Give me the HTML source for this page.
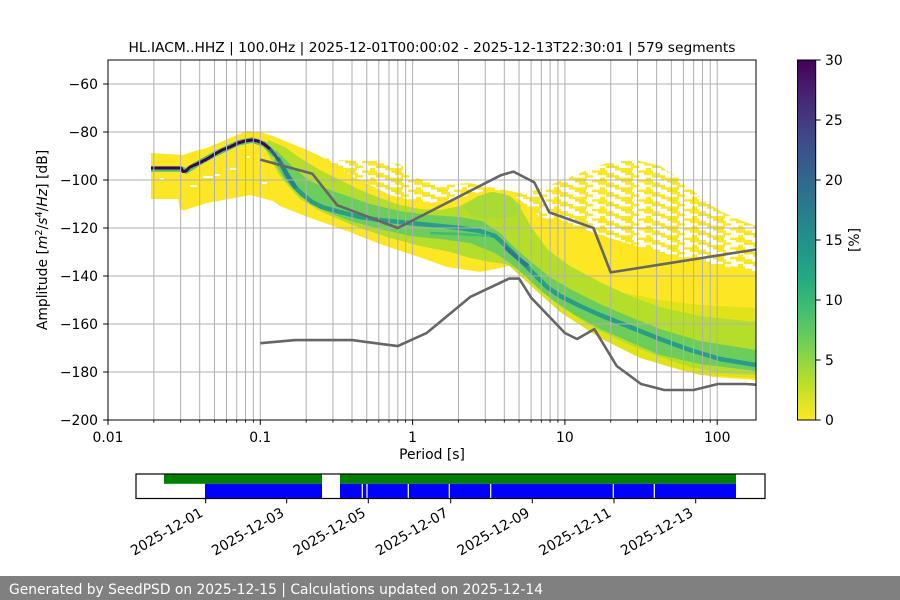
<!DOCTYPE html>
<html>
<head>
<meta charset="utf-8">
<style>
html,body{margin:0;padding:0;background:#fff;}
svg{display:block;}
text{font-family:"DejaVu Sans","Liberation Sans",sans-serif;}
</style>
</head>
<body>
<svg width="900" height="600" viewBox="0 0 900 600" xmlns="http://www.w3.org/2000/svg">
<defs>
  <linearGradient id="vir" x1="0" y1="0" x2="0" y2="1">
    <stop offset="0" stop-color="#440154"/>
    <stop offset="0.1" stop-color="#482475"/>
    <stop offset="0.2" stop-color="#414487"/>
    <stop offset="0.3" stop-color="#355f8d"/>
    <stop offset="0.4" stop-color="#2a788e"/>
    <stop offset="0.5" stop-color="#21918c"/>
    <stop offset="0.6" stop-color="#22a884"/>
    <stop offset="0.7" stop-color="#44bf70"/>
    <stop offset="0.8" stop-color="#7ad151"/>
    <stop offset="0.9" stop-color="#bddf26"/>
    <stop offset="1" stop-color="#fde725"/>
  </linearGradient>
  <pattern id="sc" patternUnits="userSpaceOnUse" width="46" height="9.6">
    <rect x="0" y="0" width="16" height="2.4" fill="#fde725"/>
    <rect x="27" y="0" width="9" height="2.4" fill="#fde725"/>
    <rect x="8" y="2.4" width="13" height="2.4" fill="#f4e61e"/>
    <rect x="33" y="2.4" width="8" height="2.4" fill="#fde725"/>
    <rect x="2" y="4.8" width="5" height="2.4" fill="#fde725"/>
    <rect x="17" y="4.8" width="18" height="2.4" fill="#fde725"/>
    <rect x="0" y="7.2" width="9" height="2.4" fill="#fde725"/>
    <rect x="23" y="7.2" width="11" height="2.4" fill="#f4e61e"/>
    <rect x="40" y="7.2" width="6" height="2.4" fill="#fde725"/>
  </pattern>
  <clipPath id="ax"><rect x="108" y="60" width="648" height="360"/></clipPath>
</defs>

<rect x="0" y="0" width="900" height="600" fill="#fff"/>

<!-- Title -->
<text x="432" y="52" font-size="13.5" text-anchor="middle" textLength="607" lengthAdjust="spacingAndGlyphs">HL.IACM..HHZ | 100.0Hz | 2025-12-01T00:00:02 - 2025-12-13T22:30:01 | 579 segments</text>

<!-- Heatmap -->
<g clip-path="url(#ax)">
  <!-- sparse scatter -->
  <polygon fill="url(#sc)" points="320,157 340,160 360,161 380,161 400,164 413,177 440,185 470,183 500,189 525,194 545,187 565,179 585,171 600,165 615,161 640,161 660,166 680,179 700,197 720,211 740,220 756,226 756,300 600,262 500,230 400,215 320,180"/>
  <!-- dense yellow -->
  <polygon fill="#fde725" points="151,153 183,155 195,151 207,148 223,141 237,135 247,131 260,132 273,136 290,143 307,150 320,156 335,165 350,175 370,185 390,195 410,200 430,203 450,200 470,195 490,189 510,192 525,204 540,217 560,222 580,228 610,238 650,250 700,262 756,272 756,380 713,377 680,370 647,360 613,340 580,318 553,297 533,280 520,268 513,265 500,268 480,272 447,267 413,255 380,244 347,231 333,226 313,219 300,214 280,206 273,201 250,195 240,197 207,203 185,210 180,210 178,199 151,199"/>
  <!-- white dashes -->
  <g fill="#fff">
    <rect x="190" y="185" width="7" height="2"/>
    <rect x="203" y="176" width="10" height="2"/>
    <rect x="215" y="174" width="5" height="2"/>
    <rect x="230" y="168" width="7" height="2"/>
    <rect x="247" y="156" width="3" height="2"/>
    <rect x="262" y="182" width="5" height="2"/>
    <rect x="160" y="178" width="4" height="2"/>
  </g>
  <!-- pale greenish yellow -->
  <polygon fill="#e0e31a" points="500,240 540,262 580,280 620,292 660,300 700,305 756,308 756,378 700,375 640,358 600,338 560,312 530,285 505,262"/>
  <!-- light green -->
  <polygon fill="#b5de2b" points="268,140 285,147 300,158 320,170 340,180 360,190 380,198 400,205 420,209 440,210 460,206 475,198 490,192 505,194 518,204 532,228 548,250 570,266 600,282 630,296 660,307 700,316 756,322 756,375 720,373 690,367 660,357 630,345 600,331 580,319 560,306 545,293 530,280 518,270 505,264 490,262 470,258 450,252 420,246 390,238 360,228 340,220 320,211 300,199 290,188 280,176 272,162 265,148"/>
  <polygon fill="#a8db33" points="463,207 478,196 494,192 510,196 521,206 516,216 496,219 474,218"/>
  <!-- medium green -->
  <polygon fill="#6ccd5a" points="276,150 292,166 308,180 330,190 350,197 370,204 400,211 430,215 460,217 482,221 500,233 515,248 530,261 550,277 570,289 600,304 630,317 660,329 700,341 756,350 756,371 700,364 660,355 630,342 600,329 575,315 555,302 540,290 525,276 510,263 495,253 470,243 440,239 410,236 380,229 350,221 320,209 300,196 285,180 274,162"/>
  <!-- teal core -->
  <polyline fill="none" stroke="#2a9d8a" stroke-width="4.5" stroke-linejoin="round" points="280,162 287,176 294,186 302,194 312,202 322,207 340,212 360,217 380,220 400,222 420,224 440,226 460,228 480,231 495,236 505,245 515,255 525,265 535,275 547,287 560,296 580,306 600,315 630,327 660,339 690,350 720,359 756,365"/>
  <polyline fill="none" stroke="#3fbc73" stroke-width="2.5" points="430,233 460,234 490,236"/>
  <polyline fill="none" stroke="#2c7a8e" stroke-width="4" points="505,247 515,256 528,266"/>
  <polyline fill="none" stroke="#26828e" stroke-width="4" points="278,158 287,174 296,188"/>
  <!-- green border around dark line -->
  <polyline fill="none" stroke="#4ec36b" stroke-width="5.5" stroke-linejoin="round" points="151,169 181,169 186,171 197,164 215,154 238,143 252,140 264,144 275,155"/>
  <!-- dark mode line -->
  <polyline fill="none" stroke="#440154" stroke-width="3" stroke-linejoin="round" points="151,168 181,168 183,171.5 186,171 190,167 197,164 207,159 215,154 222,150 230,147 238,143 245,141 252,140 258,141 264,144 270,149"/>
  <polyline fill="none" stroke="#3b528b" stroke-width="3" points="270,149 275,155 279,161"/>
</g>

<!-- Grid -->
<g stroke="#b0b0b0" stroke-width="1" fill="none">
  <path d="M153.85 60V420M180.66 60V420M199.7 60V420M214.45 60V420M226.51 60V420M236.71 60V420M245.54 60V420M253.33 60V420M260.3 60V420M306.15 60V420M332.96 60V420M352 60V420M366.75 60V420M378.81 60V420M389.01 60V420M397.84 60V420M405.63 60V420M412.6 60V420M458.45 60V420M485.26 60V420M504.3 60V420M519.05 60V420M531.11 60V420M541.31 60V420M550.14 60V420M557.93 60V420M564.9 60V420M610.75 60V420M637.56 60V420M656.6 60V420M671.35 60V420M683.41 60V420M693.61 60V420M702.44 60V420M710.23 60V420M717.2 60V420"/>
  <path d="M108 84H756M108 132H756M108 180H756M108 228H756M108 276H756M108 324H756M108 372H756"/>
</g>

<!-- Noise models -->
<g clip-path="url(#ax)" fill="none" stroke="#666666" stroke-width="2.6" stroke-linejoin="round">
  <polyline points="260.3,159.6 312.4,173.8 337.2,205.2 397.8,228 500.9,175.2 513.5,171.6 534.3,182.4 549.3,212.4 593.5,228 610.7,272.4 756,249.5"/>
  <polyline points="260.3,343.2 295.4,340.1 352,340.1 397.8,346.1 426.8,332.9 470.5,296.8 509.1,278.6 519.1,278.6 531.1,297.6 564.9,333 577,339 594.3,329.1 616.7,366 641,384 664.4,390 693.6,390 717.9,384 745.8,384 756,384.7"/>
</g>

<!-- Axes spines -->
<rect x="108" y="60" width="648" height="360" fill="none" stroke="#000" stroke-width="1"/>

<!-- X ticks -->
<g stroke="#000" stroke-width="1">
  <path d="M108 420v4.9M260.3 420v4.9M412.6 420v4.9M564.9 420v4.9M717.2 420v4.9"/>
  <path stroke-width="0.8" d="M153.85 420v2.8M180.66 420v2.8M199.7 420v2.8M214.45 420v2.8M226.51 420v2.8M236.71 420v2.8M245.54 420v2.8M253.33 420v2.8M306.15 420v2.8M332.96 420v2.8M352 420v2.8M366.75 420v2.8M378.81 420v2.8M389.01 420v2.8M397.84 420v2.8M405.63 420v2.8M458.45 420v2.8M485.26 420v2.8M504.3 420v2.8M519.05 420v2.8M531.11 420v2.8M541.31 420v2.8M550.14 420v2.8M557.93 420v2.8M610.75 420v2.8M637.56 420v2.8M656.6 420v2.8M671.35 420v2.8M683.41 420v2.8M693.61 420v2.8M702.44 420v2.8M710.23 420v2.8"/>
  <path d="M108 84h-4.9M108 132h-4.9M108 180h-4.9M108 228h-4.9M108 276h-4.9M108 324h-4.9M108 372h-4.9M108 420h-4.9"/>
</g>
<g font-size="13.9" fill="#000">
  <text x="108" y="442" text-anchor="middle">0.01</text>
  <text x="260.3" y="442" text-anchor="middle">0.1</text>
  <text x="412.6" y="442" text-anchor="middle">1</text>
  <text x="564.9" y="442" text-anchor="middle">10</text>
  <text x="717.2" y="442" text-anchor="middle">100</text>
  <text x="98" y="89" text-anchor="end">−60</text>
  <text x="98" y="137" text-anchor="end">−80</text>
  <text x="98" y="185" text-anchor="end">−100</text>
  <text x="98" y="233" text-anchor="end">−120</text>
  <text x="98" y="281" text-anchor="end">−140</text>
  <text x="98" y="329" text-anchor="end">−160</text>
  <text x="98" y="377" text-anchor="end">−180</text>
  <text x="98" y="425" text-anchor="end">−200</text>
  <text x="432" y="459" text-anchor="middle">Period [s]</text>
  <text transform="translate(47,240) rotate(-90)" text-anchor="middle">Amplitude [<tspan font-style="italic">m</tspan><tspan font-size="9.7" dy="-5">2</tspan><tspan dy="5">/</tspan><tspan font-style="italic">s</tspan><tspan font-size="9.7" dy="-5">4</tspan><tspan dy="5">/</tspan><tspan font-style="italic">Hz</tspan>] [dB]</text>
</g>

<!-- Colorbar -->
<rect x="797.5" y="60" width="18.2" height="360" fill="url(#vir)" stroke="#000" stroke-width="1"/>
<g stroke="#000" stroke-width="1">
  <path d="M815.7 60h4.9M815.7 120h4.9M815.7 180h4.9M815.7 240h4.9M815.7 300h4.9M815.7 360h4.9M815.7 420h4.9"/>
</g>
<g font-size="13.9" fill="#000">
  <text x="825" y="65">30</text>
  <text x="825" y="125">25</text>
  <text x="825" y="185">20</text>
  <text x="825" y="245">15</text>
  <text x="825" y="305">10</text>
  <text x="825" y="365">5</text>
  <text x="825" y="425">0</text>
  <text transform="translate(859,240) rotate(-90)" text-anchor="middle">[%]</text>
</g>

<!-- Timeline -->
<rect x="164" y="474" width="158" height="9.8" fill="#008000"/>
<rect x="340" y="474" width="396" height="9.8" fill="#008000"/>
<rect x="205" y="483.8" width="117" height="14.4" fill="#0000ff"/>
<rect x="340" y="483.8" width="396" height="14.4" fill="#0000ff"/>
<g stroke="#fff" stroke-width="1.2">
  <path d="M362.3 484v14M367 484v14M408.3 484v14M449.3 484v14M490.7 484v14M613.3 484v14M654.3 484v14"/>
</g>
<rect x="136" y="474" width="629" height="24.5" fill="none" stroke="#000" stroke-width="1.2"/>
<g stroke="#000" stroke-width="1">
  <path d="M205.7 498.5v4.9M286.7 498.5v4.9M368.3 498.5v4.9M450.7 498.5v4.9M532.3 498.5v4.9M614 498.5v4.9M695.7 498.5v4.9"/>
</g>
<g font-size="13.9" fill="#000" text-anchor="end">
  <text transform="translate(204,515.5) rotate(-30)">2025-12-01</text>
  <text transform="translate(285,515.5) rotate(-30)">2025-12-03</text>
  <text transform="translate(366.6,515.5) rotate(-30)">2025-12-05</text>
  <text transform="translate(449,515.5) rotate(-30)">2025-12-07</text>
  <text transform="translate(530.6,515.5) rotate(-30)">2025-12-09</text>
  <text transform="translate(612.3,515.5) rotate(-30)">2025-12-11</text>
  <text transform="translate(694,515.5) rotate(-30)">2025-12-13</text>
</g>

<!-- Footer -->
<rect x="0" y="576" width="900" height="24" fill="#808080"/>
<text x="9" y="594" font-size="13.9" fill="#fff" textLength="534" lengthAdjust="spacingAndGlyphs">Generated by SeedPSD on 2025-12-15 | Calculations updated on 2025-12-14</text>
</svg>
</body>
</html>
